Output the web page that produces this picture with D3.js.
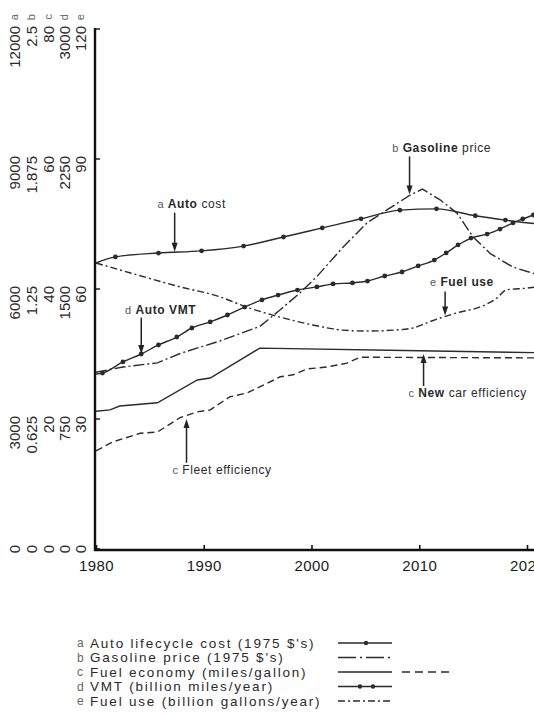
<!DOCTYPE html>
<html lang="en">
<head>
<meta charset="UTF-8">
<title>Auto trends 1980-2020</title>
<script src="https://d3js.org/d3.v7.min.js"></script>
<style>
    body { margin: 0; background: #ffffff; }
    svg { display: block; font-family: "Liberation Sans", Arial, sans-serif; }
    .series { fill: none; stroke: #2b2b2b; stroke-width: 1.4; }
    .dot { fill: #2b2b2b; }
    .tick-num { font-size: 15px; fill: #2a2a2a; }
    .tick-let { font-size: 11px; fill: #666; }
    .ann { font-size: 12px; fill: #2a2a2a; letter-spacing: 0.6px; }
    .ann .let { font-size: 11px; fill: #555; font-weight: normal; }
    .leg { font-size: 13.5px; fill: #2a2a2a; letter-spacing: 1.8px; }
    .leg-let { font-size: 12px; fill: #666; }
</style>
</head>
<body>
<div id="chart"></div>
<script>
// ---- data ----
// a: auto lifecycle cost (1975 $)
const aYears  = [1980, 1981.8, 1985.8, 1989.8, 1993.7, 1997.4, 2001.0, 2004.6, 2008.2, 2011.6, 2015.2, 2018.0, 2021];
const aValues = [6600, 6740, 6830, 6880, 6990, 7200, 7410, 7620, 7820, 7850, 7690, 7590, 7500];

// b: gasoline price (1975 $)
const bYears  = [1980, 1982.5, 1985.7, 1987.8, 1991.5, 1995.2, 1997.1, 1998.9, 2000.5, 2002.9, 2005.2, 2007.0, 2009.1, 2010.3, 2011.9, 2013.5, 2015.0, 2016.6, 2018.7, 2020.6, 2021];
const bValues = [0.85, 0.875, 0.895, 0.94, 1.0, 1.07, 1.15, 1.23, 1.31, 1.45, 1.57, 1.63, 1.70, 1.73, 1.68, 1.615, 1.50, 1.42, 1.355, 1.325, 1.32];

// c: fuel economy (mpg), new cars (solid) and fleet (dashed)
const cNewYears  = [1980, 1981.3, 1982.2, 1985.7, 1989.4, 1990.6, 1995.2, 2010, 2021];
const cNewValues = [21.2, 21.4, 22.0, 22.5, 26.0, 26.3, 30.9, 30.5, 30.2];
const cFleetYears  = [1980, 1981.6, 1984.1, 1985.7, 1987.8, 1989.4, 1990.6, 1992.4, 1994.0, 1995.9, 1997.1, 1998.3, 1999.6, 2001.4, 2003.3, 2004.5, 2021];
const cFleetValues = [15.1, 16.5, 17.8, 18.0, 20.2, 21.1, 21.4, 23.4, 24.0, 25.5, 26.5, 26.8, 27.7, 28.0, 28.6, 29.5, 29.4];

// d: VMT (billion miles/year)
const dYears  = [1980, 1980.6, 1982.5, 1984.2, 1985.8, 1987.5, 1988.9, 1990.6, 1992.2, 1993.8, 1995.4, 1996.9, 1998.7, 2000.5, 2002.0, 2003.8, 2005.2, 2006.8, 2008.4, 2009.9, 2011.4, 2012.5, 2013.6, 2014.8, 2016.3, 2017.5, 2018.7, 2019.6, 2020.6, 2021.5];
const dValues = [1010, 1015, 1079, 1125, 1177, 1223, 1275, 1310, 1350, 1396, 1437, 1465, 1494, 1512, 1529, 1535, 1546, 1575, 1598, 1633, 1667, 1708, 1754, 1794, 1817, 1846, 1881, 1904, 1927, 1950];

// e: fuel use (billion gallons/year)
const eYears  = [1980, 1983.2, 1987.8, 1991.5, 1994.0, 1997.1, 2000.1, 2002.0, 2002.9, 2005.2, 2007.6, 2009.4, 2010.7, 2012.2, 2013.8, 2015.6, 2017.2, 2018.1, 2020.0, 2021];
const eValues = [66.0, 63.7, 60.5, 58.2, 55.8, 53.5, 51.7, 50.8, 50.5, 50.3, 50.5, 51.0, 52.2, 53.5, 54.7, 55.8, 57.9, 59.8, 60.2, 60.5];

// stacked y-axis ticks, one column per series
const axisLetters = ["a", "b", "c", "d", "e"];
const ticksA = [0, 3000, 6000, 9000, 12000];
const ticksB = [0, 0.625, 1.25, 1.875, 2.5];
const ticksC = [0, 20, 40, 60, 80];
const ticksD = [0, 750, 1500, 2250, 3000];
const ticksE = [0, 30, 60, 90, 120];
const xTicks = [1980, 1990, 2000, 2010, 2020];

// annotations: year of arrow, y values on the common (e) scale
const annotations = [
    { letter: "a", bold: "Auto", rest: " cost", textYear: 1985.7, textVal: 78.7, arrowYear: 1987.3, from: 77.6, to: 68.6 },
    { letter: "d", bold: "Auto VMT", rest: "", textYear: 1982.7, textVal: 54.2, arrowYear: 1984.2, from: 53.4, to: 45.0 },
    { letter: "b", bold: "Gasoline", rest: " price", textYear: 2007.5, textVal: 91.6, arrowYear: 2009.1, from: 90.6, to: 81.8 },
    { letter: "e", bold: "Fuel use", rest: "", textYear: 2011.0, textVal: 60.7, arrowYear: 2012.4, from: 59.4, to: 53.9 },
    { letter: "c", bold: "New", rest: " car efficiency", textYear: 2009.0, textVal: 35.1, arrowYear: 2010.4, from: 37.6, to: 45.0 },
    { letter: "c", bold: "", rest: "Fleet efficiency", textYear: 1987.1, textVal: 17.3, arrowYear: 1988.4, from: 19.9, to: 30.0 }
];

// legend
const legendLetters = ["a", "b", "c", "d", "e"];
const legendLabels = [
    "Auto lifecycle cost (1975 $'s)",
    "Gasoline price (1975 $'s)",
    "Fuel economy (miles/gallon)",
    "VMT (billion miles/year)",
    "Fuel use (billion gallons/year)"
];

// ---- layout ----
const width = 534, height = 717;
const axisX = 95, topY = 29, baseY = 549;

const svg = d3.select("#chart").append("svg")
    .attr("width", width)
    .attr("height", height);

const x = d3.scaleLinear().domain([1980, 2020]).range([96, 527]);
const yA = d3.scaleLinear().domain([0, 12000]).range([baseY, topY]);
const yB = d3.scaleLinear().domain([0, 2.5]).range([baseY, topY]);
const yC = d3.scaleLinear().domain([0, 80]).range([baseY, topY]);
const yD = d3.scaleLinear().domain([0, 3000]).range([baseY, topY]);
const yE = d3.scaleLinear().domain([0, 120]).range([baseY, topY]);

// ---- axes ----
svg.append("line")
    .attr("x1", axisX).attr("x2", axisX)
    .attr("y1", topY - 1).attr("y2", baseY + 2)
    .attr("stroke", "#111").attr("stroke-width", 2.4);
svg.append("line")
    .attr("x1", axisX - 1).attr("x2", width)
    .attr("y1", baseY + 1).attr("y2", baseY + 1)
    .attr("stroke", "#111").attr("stroke-width", 2.6);

const xAxis = d3.axisBottom(x)
    .tickValues(xTicks)
    .tickFormat(d3.format("d"))
    .tickSizeInner(-5)
    .tickSizeOuter(0)
    .tickPadding(10);

const gx = svg.append("g")
    .attr("transform", `translate(0,${baseY + 1})`)
    .call(xAxis);
gx.select(".domain").remove();
gx.selectAll(".tick line").attr("stroke", "#111").attr("stroke-width", 1.6);
gx.selectAll(".tick text")
    .attr("font-size", 15)
    .attr("font-family", "Liberation Sans, Arial, sans-serif")
    .attr("letter-spacing", "0.4px")
    .attr("fill", "#1a1a1a");

// y ticks (small marks to the right of the axis)
svg.selectAll(".ytick")
    .data(ticksE)
    .join("line")
    .attr("class", "ytick")
    .attr("x1", axisX).attr("x2", axisX + 5)
    .attr("y1", d => yE(d)).attr("y2", d => yE(d))
    .attr("stroke", "#111").attr("stroke-width", 1.4);

// rotated stacked tick labels
const columns = [
    { ticks: ticksA, scale: yA, cx: 15 },
    { ticks: ticksB, scale: yB, cx: 32 },
    { ticks: ticksC, scale: yC, cx: 49 },
    { ticks: ticksD, scale: yD, cx: 65 },
    { ticks: ticksE, scale: yE, cx: 81 }
];

columns.forEach((col, i) => {
    svg.selectAll(null)
        .data(col.ticks)
        .join("text")
        .attr("class", "tick-num")
        .attr("text-anchor", "end")
        .attr("dy", "0.36em")
        .attr("transform", d => {
            const yy = d === 0 ? col.scale(d) - 4 : col.scale(d) - 3;
            return `translate(${col.cx},${yy}) rotate(-90)`;
        })
        .text(d => String(d));

    svg.append("text")
        .attr("class", "tick-let")
        .attr("text-anchor", "end")
        .attr("dy", "0.28em")
        .attr("transform", `translate(${col.cx},${topY - 15}) rotate(-90)`)
        .text(axisLetters[i]);
});

// ---- series ----
const smooth = d3.curveMonotoneX;

function drawSeries(years, values, scale, curve, dash) {
    const pts = years.map((yr, i) => [x(yr), scale(values[i])]);
    svg.append("path")
        .datum(pts)
        .attr("class", "series")
        .attr("stroke-dasharray", dash || null)
        .attr("d", d3.line().curve(curve)(pts));
    return pts;
}

function drawDots(pts) {
    svg.selectAll(null)
        .data(pts.slice(1, pts.length - 1))
        .join("circle")
        .attr("class", "dot")
        .attr("cx", d => d[0])
        .attr("cy", d => d[1])
        .attr("r", 2.4);
}

const aPts = drawSeries(aYears, aValues, yA, smooth);
drawDots(aPts);
drawSeries(bYears, bValues, yB, d3.curveLinear, "11,3,2,3");
drawSeries(cNewYears, cNewValues, yC, d3.curveLinear);
drawSeries(cFleetYears, cFleetValues, yC, d3.curveLinear, "7,4");
const dPts = drawSeries(dYears, dValues, yD, smooth);
drawDots(dPts);
drawSeries(eYears, eValues, yE, smooth, "7,3,2,3");

// ---- annotations ----
annotations.forEach(a => {
    const t = svg.append("text")
        .attr("class", "ann")
        .attr("x", x(a.textYear))
        .attr("y", yE(a.textVal));
    t.append("tspan").attr("class", "let").text(a.letter + " ");
    if (a.bold) t.append("tspan").attr("font-weight", "bold").text(a.bold);
    if (a.rest) t.append("tspan").text(a.rest);

    const ax = x(a.arrowYear);
    const y1 = yE(a.from), y2 = yE(a.to);
    const dir = y2 > y1 ? 1 : -1;
    svg.append("line")
        .attr("x1", ax).attr("x2", ax)
        .attr("y1", y1).attr("y2", y2 - dir * 6)
        .attr("stroke", "#222").attr("stroke-width", 1.5);
    svg.append("path")
        .attr("d", `M${ax - 3},${y2 - dir * 9}L${ax + 3},${y2 - dir * 9}L${ax},${y2}Z`)
        .attr("fill", "#222");
});

// ---- legend ----
const legY = d3.scalePoint().domain(d3.range(5)).range([643, 701]);
const legTextX = 90, sampleX0 = 338, sampleX1 = 392;

legendLabels.forEach((lab, i) => {
    const yy = legY(i);
    svg.append("text")
        .attr("class", "leg-let")
        .attr("x", legTextX - 13)
        .attr("y", yy + 4)
        .text(legendLetters[i]);
    svg.append("text")
        .attr("class", "leg")
        .attr("x", legTextX)
        .attr("y", yy + 4.5)
        .text(lab);
});

function legLine(i, x0, x1, dash) {
    svg.append("line")
        .attr("x1", x0).attr("x2", x1)
        .attr("y1", legY(i)).attr("y2", legY(i))
        .attr("stroke", "#2b2b2b").attr("stroke-width", 1.3)
        .attr("stroke-dasharray", dash || null);
}
function legDot(i, cx) {
    svg.append("circle").attr("class", "dot")
        .attr("cx", cx).attr("cy", legY(i)).attr("r", 2.2);
}

legLine(0, sampleX0, sampleX1);
legDot(0, 366);
legLine(1, sampleX0, sampleX1, "18,4,2,4");
legLine(2, sampleX0, sampleX1);
legLine(2, 402, 452, "8,5");
legLine(3, sampleX0, sampleX1);
legDot(3, 360);
legDot(3, 373);
legLine(4, sampleX0, sampleX1, "7,3,2,3");
</script>
</body>
</html>
